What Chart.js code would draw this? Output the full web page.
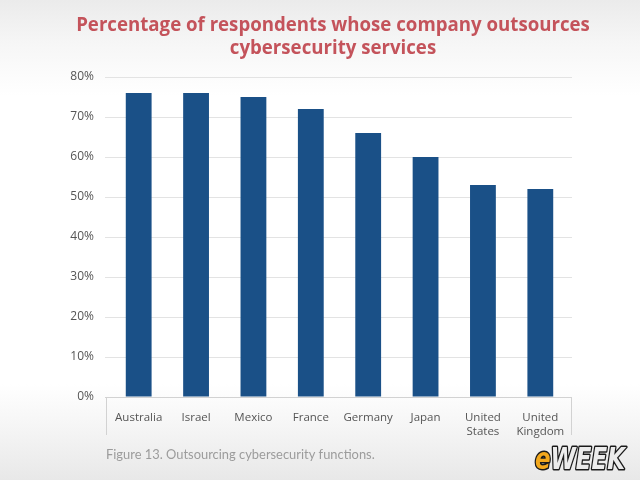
<!DOCTYPE html>
<html>
<head>
<meta charset="utf-8">
<script src="https://cdn.jsdelivr.net/npm/chart.js@4/dist/chart.umd.min.js"></script>
<style>
  html, body { margin: 0; padding: 0; }
  body {
    width: 640px; height: 480px; overflow: hidden;
    background: linear-gradient(to bottom, #ebebeb 0%, #f6f6f6 9%, #ffffff 20%, #ffffff 80%, #f4f4f4 90%, #e8e8e8 100%);
  }
  #wrap { position: relative; width: 640px; height: 480px; }
</style>
</head>
<body>
<div id="wrap"><canvas id="c" width="640" height="480"></canvas></div>
<script>
const titleLines = ['Percentage of respondents whose company outsources', 'cybersecurity services'];
const categories = ['Australia', 'Israel', 'Mexico', 'France', 'Germany', 'Japan', ['United', 'States'], ['United', 'Kingdom']];
const values = [76, 76, 75, 72, 66, 60, 53, 52];
const yTicks = [0, 10, 20, 30, 40, 50, 60, 70, 80];
const caption = 'Figure 13. Outsourcing cybersecurity functions.';
const logoE = 'e';
const logoRest = 'WEEK';

const decor = {
  id: 'decor',
  beforeDatasetsDraw(chart) {
    const ctx = chart.ctx;
    const a = chart.chartArea;
    const y = chart.scales.y;
    ctx.save();
    ctx.strokeStyle = '#e3e3e3';
    ctx.lineWidth = 1;
    ctx.beginPath();
    yTicks.forEach(v => {
      const py = Math.round(y.getPixelForValue(v)) + 0.5;
      ctx.moveTo(a.left - 5, py); ctx.lineTo(a.left, py);
      ctx.moveTo(a.right, py); ctx.lineTo(a.right + 3, py);
    });
    ctx.stroke();
    const p0 = Math.round(y.getPixelForValue(0)) + 0.5;
    ctx.strokeStyle = '#d2d2d2';
    ctx.beginPath();
    ctx.moveTo(a.left - 5, p0); ctx.lineTo(a.right + 3, p0);
    ctx.stroke();
    ctx.restore();
  },
  afterDraw(chart) {
    const ctx = chart.ctx;
    const a = chart.chartArea;
    ctx.save();
    ctx.strokeStyle = '#d2d2d2';
    ctx.lineWidth = 1;
    ctx.beginPath();
    ctx.moveTo(a.left - 4 + 0.5, a.bottom);
    ctx.lineTo(a.left - 4 + 0.5, a.bottom + 38);
    ctx.moveTo(a.right + 3 - 0.5, a.bottom);
    ctx.lineTo(a.right + 3 - 0.5, a.bottom + 38);
    ctx.stroke();
    // title
    ctx.fillStyle = '#c4535b';
    let fs = 17.5;
    ctx.font = 'bold ' + fs + 'px "Open Sans"';
    const tw = ctx.measureText(titleLines[0]).width;
    fs = fs * 514 / tw;
    ctx.font = 'bold ' + fs.toFixed(2) + 'px "Open Sans"';
    ctx.textAlign = 'center';
    ctx.textBaseline = 'alphabetic';
    ctx.fillText(titleLines[0], 333, 31);
    ctx.fillText(titleLines[1], 333, 54);
    // caption
    ctx.fillStyle = '#9c9c9c';
    ctx.font = '12.9px Lato';
    ctx.textAlign = 'left';
    ctx.fillText(caption, 106, 459);
    // logo
    ctx.font = 'italic bold 31px "DejaVu Sans Condensed"';
    const we = ctx.measureText(logoE).width;
    const wr = ctx.measureText(logoRest).width;
    const sx = 90 / (we + wr);
    ctx.translate(535, 469);
    ctx.scale(sx, 1);
    ctx.lineJoin = 'round';
    ctx.lineWidth = 3;
    ctx.strokeStyle = '#1a1a1a';
    ctx.strokeText(logoE, 0, 0);
    ctx.fillStyle = '#f2a81d';
    ctx.fillText(logoE, 0, 0);
    ctx.strokeText(logoRest, we, 0);
    ctx.fillStyle = '#ececec';
    ctx.fillText(logoRest, we, 0);
    ctx.restore();
  }
};

new Chart(document.getElementById('c'), {
  type: 'bar',
  data: {
    labels: categories,
    datasets: [{
      data: values,
      backgroundColor: '#1a5087',
      borderWidth: 0,
      barPercentage: 0.45,
      categoryPercentage: 1.0
    }]
  },
  options: {
    responsive: false,
    animation: false,
    layout: { padding: { top: 77, left: 0, right: 71, bottom: 40 } },
    plugins: {
      legend: { display: false },
      title: { display: false },
      tooltip: { enabled: false }
    },
    scales: {
      x: {
        grid: { display: false },
        border: { display: true, color: '#d2d2d2' },
        ticks: {
          color: '#555555',
          font: { family: 'Open Sans', size: 11.5, lineHeight: 1.22 },
          padding: 6,
          maxRotation: 0,
          autoSkip: false
        },
        afterFit(s) { s.height = 43; }
      },
      y: {
        min: 0, max: 80,
        afterBuildTicks(s) { s.ticks = yTicks.map(v => ({ value: v })); },
        grid: { color: '#e3e3e3', drawTicks: false, lineWidth: 1 },
        border: { display: false },
        ticks: {
          color: '#555555',
          font: { family: 'Open Sans', size: 12 },
          padding: 16,
          callback: v => v + '%'
        },
        afterFit(s) { s.width = 110; }
      }
    }
  },
  plugins: [decor]
});
</script>
</body>
</html>
